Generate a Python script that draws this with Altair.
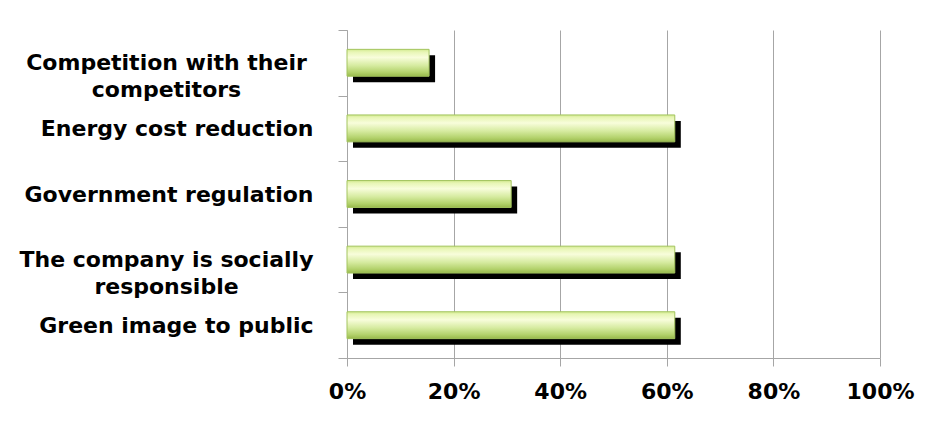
import altair as alt
import pandas as pd

categories = [
    "Competition with their competitors",
    "Energy cost reduction",
    "Government regulation",
    "The company is socially responsible",
    "Green image to public",
]
label_lines = [
    ["Competition with their", "competitors"],
    ["Energy cost reduction"],
    ["Government regulation"],
    ["The company is socially", "responsible"],
    ["Green image to public"],
]
values = [0.154, 0.615, 0.308, 0.615, 0.615]
x_ticks = [0, 0.2, 0.4, 0.6, 0.8, 1.0]

df = pd.DataFrame({"cat": categories, "val": values})

parts = []
for c, lines in zip(categories, label_lines):
    arr = "[" + ",".join("'" + l + "'" for l in lines) + "]"
    parts.append(f"datum.value == '{c}' ? {arr}")
label_expr = " : ".join(parts) + " : datum.value"
multi = [c for c, l in zip(categories, label_lines) if len(l) > 1]
multi_test = "indexof([" + ",".join("'" + m + "'" for m in multi) + "], datum.value) >= 0"

FONT = "DejaVu Sans"
grey = "#a6a6a6"

y_enc = alt.Y(
    "cat:N",
    sort=categories,
    title=None,
    scale=alt.Scale(paddingInner=0, paddingOuter=0),
    axis=alt.Axis(
        labelExpr=label_expr,
        labelFont=FONT,
        labelFontSize=22,
        labelFontWeight="bold",
        labelColor="#000000",
        labelLimit=500,
        labelLineHeight=27,
        labelAlign={"condition": {"test": multi_test, "value": "center"}, "value": "right"},
        labelPadding={"condition": {"test": multi_test, "value": 172}, "value": 25},
        tickBand="extent",
        tickSize=9,
        tickColor=grey,
        domainColor=grey,
        grid=False,
    ),
)

x_enc = alt.X(
    "val:Q",
    title=None,
    scale=alt.Scale(domain=[0, 1], nice=False),
    axis=alt.Axis(
        values=x_ticks,
        format=".0%",
        labelFont=FONT,
        labelFontSize=22,
        labelFontWeight="bold",
        labelColor="#000000",
        labelFlush=False,
        labelPadding=15,
        tickSize=8,
        tickColor=grey,
        domainColor=grey,
        grid=True,
        gridColor=grey,
        gridWidth=1,
    ),
)

shadow = alt.Chart(df).mark_bar(
    color="#000000", xOffset=6, yOffset=6, height={"band": 0.41}
).encode(x=x_enc, y=y_enc)

grad = alt.LinearGradient(
    gradient="linear",
    stops=[
        alt.GradientStop(color="#d3ea90", offset=0),
        alt.GradientStop(color="#e8f6b6", offset=0.1),
        alt.GradientStop(color="#f8fddb", offset=0.3),
        alt.GradientStop(color="#d6eba0", offset=0.6),
        alt.GradientStop(color="#b3d26c", offset=0.85),
        alt.GradientStop(color="#98b94c", offset=1),
    ],
    x1=0, x2=0, y1=0, y2=1,
)

bars = alt.Chart(df).mark_bar(
    color=grad, stroke="#a3c45e", strokeWidth=1, height={"band": 0.41}
).encode(x=x_enc, y=y_enc)

chart = (
    alt.layer(shadow, bars)
    .properties(
        width=533,
        height=328,
        autosize=alt.AutoSizeParams(type="none"),
        padding={"left": 347, "top": 30, "right": 58, "bottom": 79},
        background="white",
    )
    .configure_view(stroke=None)
)

chart.save("out.html", embed_options={"renderer": "svg", "actions": False})
